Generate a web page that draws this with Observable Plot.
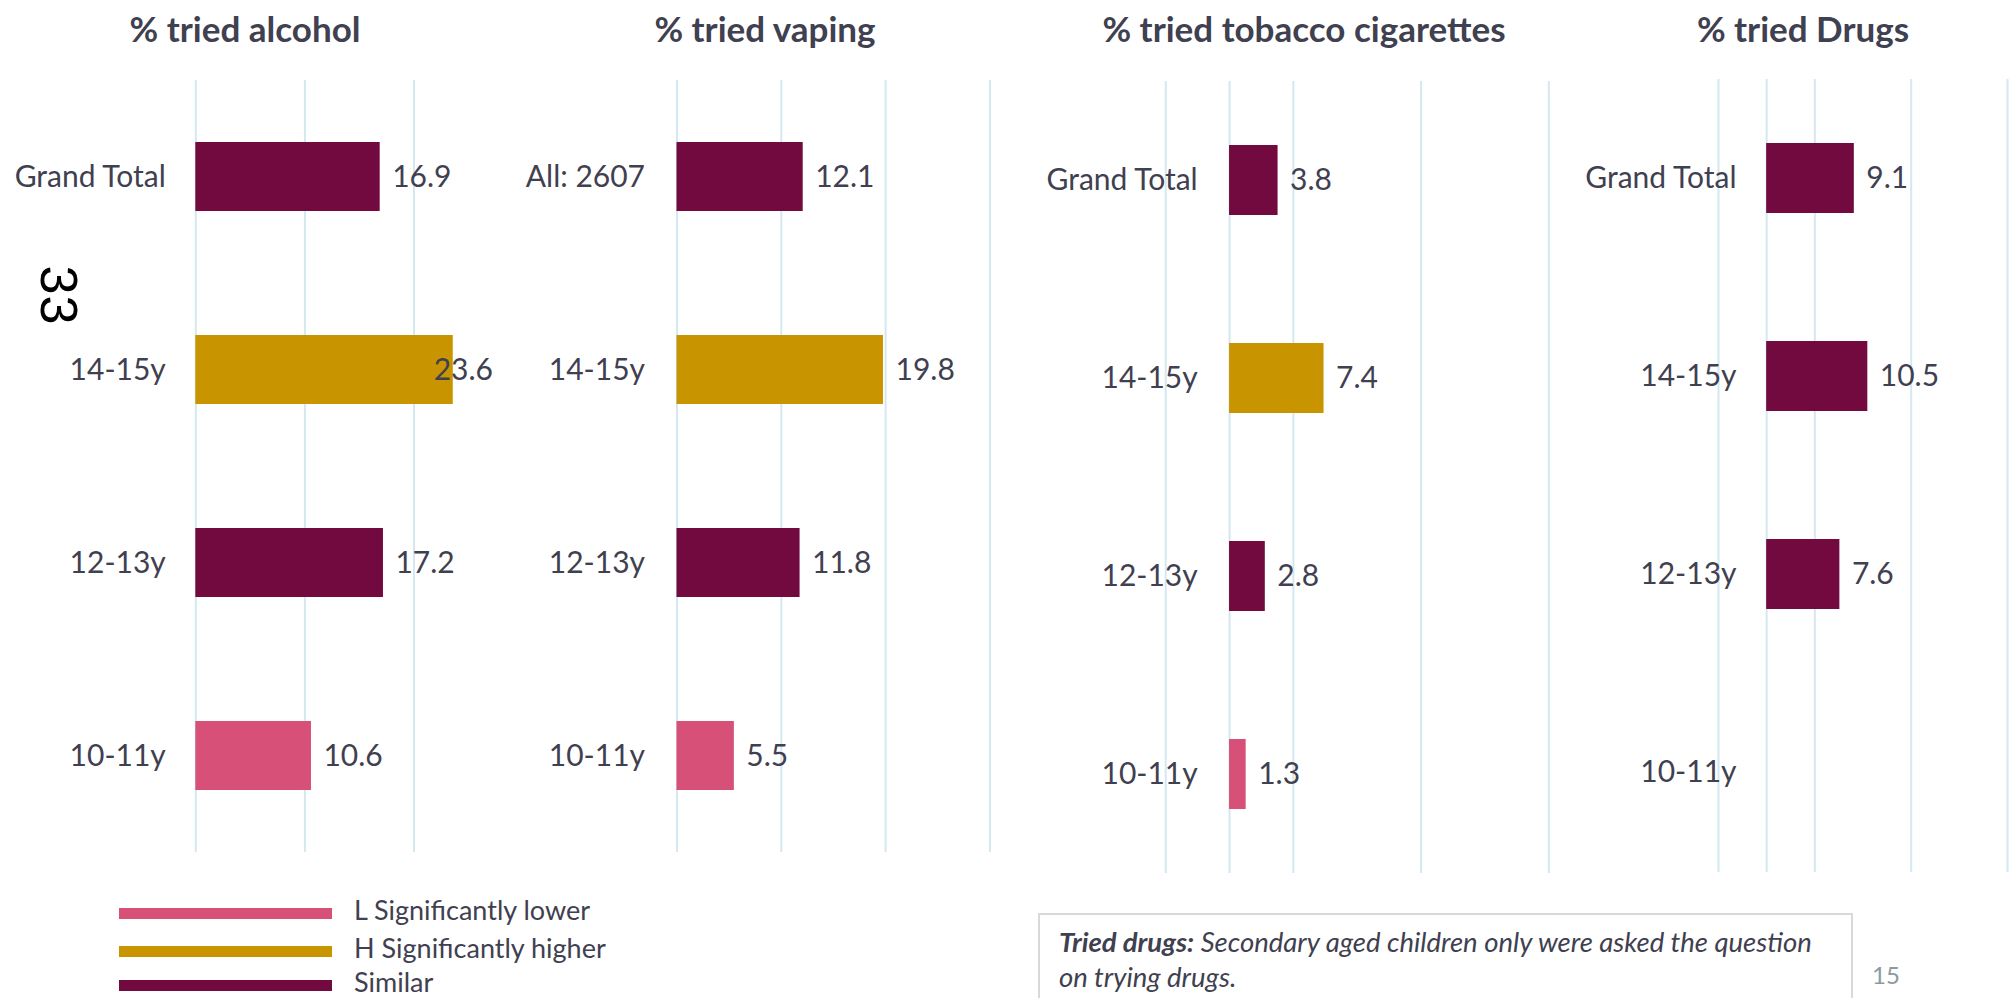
<!DOCTYPE html>
<html>
<head>
<meta charset="utf-8">
<script src="https://cdn.jsdelivr.net/npm/d3@7"></script>
<script src="https://cdn.jsdelivr.net/npm/@observablehq/plot@0.6"></script>
<style>
  html, body { margin: 0; padding: 0; background: #ffffff; }
  #page {
    position: relative; width: 2010px; height: 998px; overflow: hidden;
    font-family: Lato, "Noto Sans", sans-serif; color: #3f4050;
  }
  #page > svg { position: absolute; left: 0; top: 0; }
  .title {
    position: absolute; top: 11px; transform: translateX(-50%);
    font-weight: 700; font-size: 35px; line-height: 1; white-space: nowrap;
  }
  .side-number {
    position: absolute; left: 59px; top: 295px;
    transform: translate(-50%, -50%) rotate(90deg);
    font-family: "Liberation Sans", sans-serif; font-size: 52px; line-height: 1; color: #000;
    letter-spacing: 1px; padding-left: 1px; white-space: nowrap;
  }
  .legend-row { position: absolute; left: 0; height: 0; }
  .legend-swatch { position: absolute; left: 119px; width: 213px; height: 11px; top: -5.5px; }
  .legend-label {
    position: absolute; left: 354px; top: -18px; font-size: 27px; line-height: 28px; white-space: nowrap;
  }
  .note {
    position: absolute; left: 1038px; top: 913px; width: 815px; height: 120px;
    border: 2px solid #d9d9d9; border-bottom: none; box-sizing: border-box;
    padding: 9px 0 0 19px; font-size: 27.5px; line-height: 35px; font-style: italic; white-space: nowrap;
  }
  .note b { font-weight: 700; }
  .page-number {
    position: absolute; left: 1872px; top: 961px; font-size: 24px; line-height: 28px; color: #8a9b9e;
  }
</style>
</head>
<body>
<div id="page"></div>
<script>
// Row categories (top to bottom)
const ageGroups = ["Grand Total", "14-15y", "12-13y", "10-11y"];
const vapingGroups = ["All: 2607", "14-15y", "12-13y", "10-11y"];

// Percentages per measure
const alcoholValues = [16.9, 23.6, 17.2, 10.6];
const vapingValues = [12.1, 19.8, 11.8, 5.5];
const tobaccoValues = [3.8, 7.4, 2.8, 1.3];
const drugsValues = [9.1, 10.5, 7.6, null]; // primary-age children were not asked

// Significance versus the total
const alcoholSig = ["Similar", "Higher", "Similar", "Lower"];
const vapingSig = ["Similar", "Higher", "Similar", "Lower"];
const tobaccoSig = ["Similar", "Higher", "Similar", "Lower"];
const drugsSig = ["Similar", "Similar", "Similar", null];

// Gridline values per panel
const alcoholTicks = [0, 10, 20];
const vapingTicks = [0, 10, 20, 30];
const tobaccoTicks = [-5, 0, 5, 15, 25];
const drugsTicks = [-5, 0, 5, 15, 25];

// Panel titles
const panelTitles = ["% tried alcohol", "% tried vaping", "% tried tobacco cigarettes", "% tried Drugs"];

// Legend
const sigKeys = ["Lower", "Higher", "Similar"];
const sigLabels = ["L Significantly lower", "H Significantly higher", "Similar"];
const sigColors = ["#d65077", "#c89500", "#720a40"];

const textColor = "#3f4050";
const gridColor = "#d3e8f0";
const fmt = d3.format(".1f");

// Layout of each panel on the page (pixels)
const panels = [
  {title: panelTitles[0], titleX: 245, labels: ageGroups, values: alcoholValues, sig: alcoholSig, ticks: alcoholTicks,
   domain: [0, 30], left: 195.3, right: 522.6, top: 80, bottom: 852, labelDx: -30, valueMax: 20.7},
  {title: panelTitles[1], titleX: 765, labels: vapingGroups, values: vapingValues, sig: vapingSig, ticks: vapingTicks,
   domain: [0, 30], left: 676.5, right: 989.4, top: 80, bottom: 852, labelDx: -32, valueMax: Infinity},
  {title: panelTitles[2], titleX: 1304, labels: ageGroups, values: tobaccoValues, sig: tobaccoSig, ticks: tobaccoTicks,
   domain: [-5, 25], left: 1165.2, right: 1548.3, top: 81, bottom: 873, labelDx: 32, valueMax: Infinity},
  {title: panelTitles[3], titleX: 1803, labels: ageGroups, values: drugsValues, sig: drugsSig, ticks: drugsTicks,
   domain: [-5, 25], left: 1718, right: 2007, top: 79, bottom: 872, labelDx: 18, valueMax: Infinity}
];

const page = document.getElementById("page");
const W = 2010, H = 900;

for (const p of panels) {
  const rows = p.labels.map((label, i) => ({label, value: p.values[i], sig: p.sig[i]}));
  const withValue = rows.filter(d => d.value != null);
  const chart = Plot.plot({
    width: W,
    height: H,
    marginLeft: p.left,
    marginRight: W - p.right,
    marginTop: p.top,
    marginBottom: H - p.bottom,
    style: {background: "transparent", fontFamily: "Lato, 'Noto Sans', sans-serif", color: textColor,
      position: "absolute", left: "0px", top: "0px", maxWidth: "none"},
    x: {domain: p.domain, axis: null},
    y: {domain: p.labels, paddingInner: 0.645, paddingOuter: 0.3225, axis: null},
    color: {domain: sigKeys, range: sigColors},
    marks: [
      Plot.ruleX(p.ticks, {stroke: gridColor, strokeWidth: 2}),
      Plot.barX(withValue, {x: "value", y: "label", fill: "sig"}),
      Plot.text(p.labels, {y: d => d, text: d => d, frameAnchor: "left", textAnchor: "end", dx: p.labelDx,
        fontSize: 30, fill: textColor}),
      Plot.text(withValue, {x: d => Math.min(d.value, p.valueMax), y: "label", text: d => fmt(d.value),
        textAnchor: "start", dx: 12, fontSize: 30, fill: textColor})
    ]
  });
  page.appendChild(chart);

  const t = document.createElement("div");
  t.className = "title";
  t.style.left = p.titleX + "px";
  t.textContent = p.title;
  page.appendChild(t);
}

// Rotated slide marker
const side = document.createElement("div");
side.className = "side-number";
side.textContent = "33";
page.appendChild(side);

// Legend
const legendY = [913.5, 951.5, 985.5];
sigKeys.forEach((k, i) => {
  const row = document.createElement("div");
  row.className = "legend-row";
  row.style.top = legendY[i] + "px";
  const sw = document.createElement("div");
  sw.className = "legend-swatch";
  sw.style.background = sigColors[i];
  const lb = document.createElement("div");
  lb.className = "legend-label";
  lb.textContent = sigLabels[i];
  row.appendChild(sw);
  row.appendChild(lb);
  page.appendChild(row);
});

// Footnote
const note = document.createElement("div");
note.className = "note";
note.innerHTML = "<b>Tried drugs:</b> Secondary aged children only were asked the question<br>on trying drugs.";
page.appendChild(note);

const pn = document.createElement("div");
pn.className = "page-number";
pn.textContent = "15";
page.appendChild(pn);
</script>
</body>
</html>
